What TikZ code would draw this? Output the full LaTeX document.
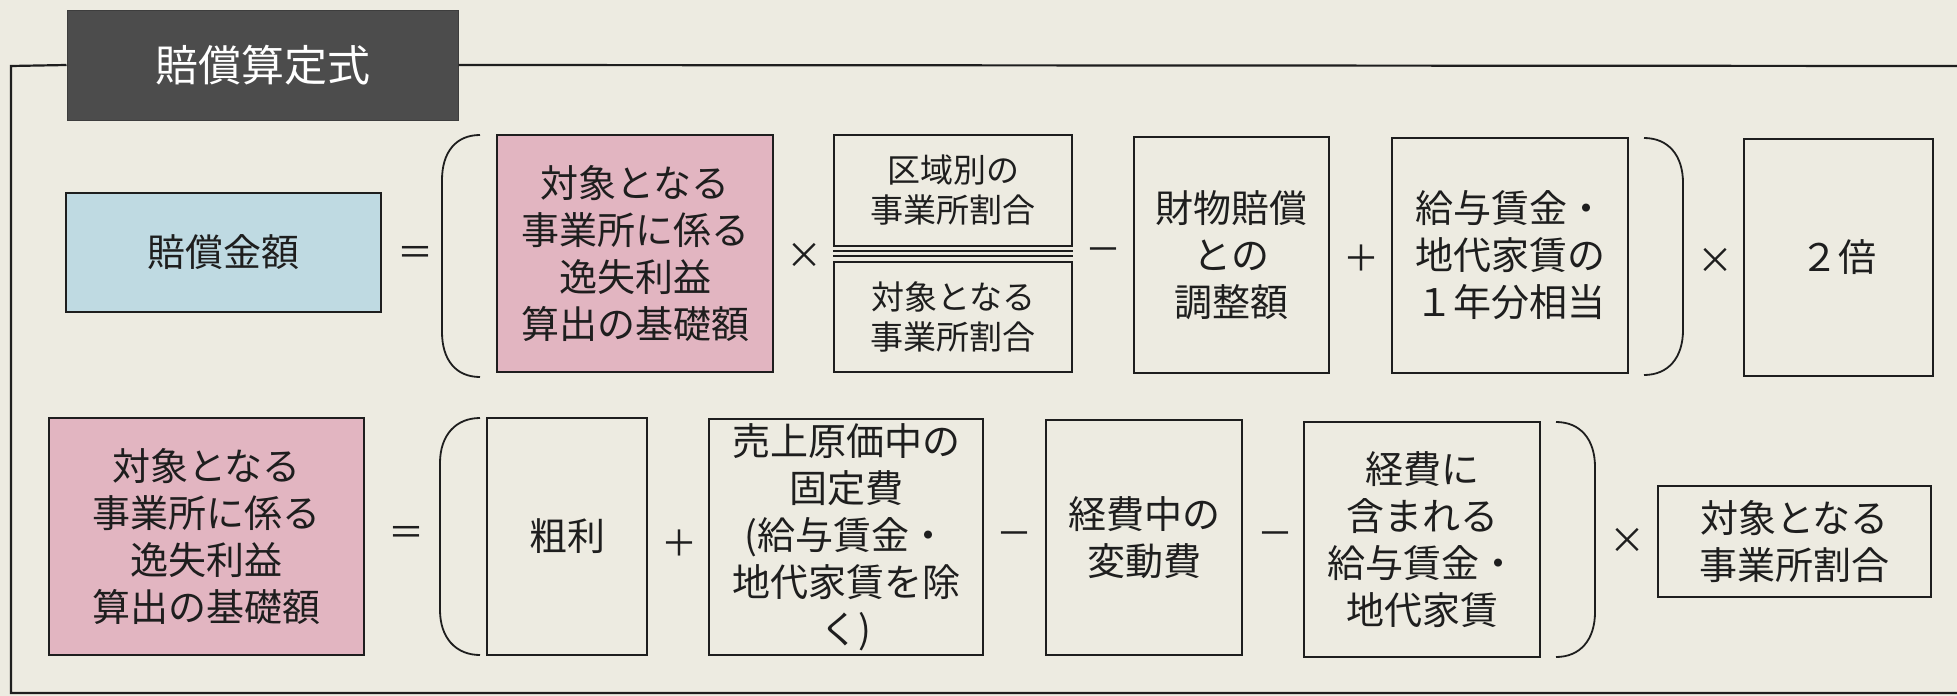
\documentclass[tikz,border=0pt]{standalone}
\usepackage{fontspec}
\setmainfont{Noto Sans CJK JP}
\definecolor{paper}{HTML}{EDEBE1}
\definecolor{pinkfill}{HTML}{E2B5C1}
\definecolor{bluefill}{HTML}{BFDAE2}
\definecolor{titlefill}{HTML}{4C4C4C}
\definecolor{ink}{HTML}{1E1E1E}
\begin{document}
\begin{tikzpicture}[x=1pt,y=-1pt,
  box/.style={draw=ink, line width=1.8pt, rectangle, inner sep=0pt, align=center,
    text=ink, font=\fontsize{38}{47}\selectfont},
  smallbox/.style={box, font=\fontsize{33}{40}\selectfont},
  pinkbox/.style={box, fill=pinkfill},
  bluebox/.style={box, fill=bluefill},
  op/.style={inner sep=0pt, text=ink, font=\fontsize{36}{40}\selectfont},
  paren/.style={draw=ink, line width=1.8pt},
  frame/.style={draw=ink, line width=2.2pt}]
\fill[paper] (0,0) rectangle (1957,696);
\useasboundingbox (0,0) rectangle (1957,696);

% title and frame
\node[rectangle, fill=titlefill, draw=titlefill!80!black, line width=1pt, inner sep=0pt,
  minimum width=391pt, minimum height=110pt, text=white,
  font=\fontsize{43}{50}\selectfont] (title) at (262.5,65) {賠償算定式};
\coordinate (ftr) at (1957,66);
\coordinate (ftl) at (11,66);
\coordinate (fbl) at (11,693);
\coordinate (fbr) at (1957,693);
\draw[frame] (title.west) -- (ftl) -- (fbl) -- (fbr);
\draw[frame] (title.east) -- (ftr);

% ---------- row 1 ----------
\node[bluebox, minimum width=315pt, minimum height=119pt] (b1) at (223.5,252.5) {賠償金額};
\node[op] (eq1) at (415,256) {＝};
\draw[paren] (480,135) .. controls (456,135) and (442,152) .. (442,180) -- (442,332)
  .. controls (442,360) and (456,377) .. (480,377);
\node[pinkbox, minimum width=276pt, minimum height=237pt] (p1) at (635,253.5)
  {対象となる\\事業所に係る\\逸失利益\\算出の基礎額};
\node[op] (x1) at (804,256) {×};
\node[smallbox, minimum width=238pt, minimum height=111pt] (fa) at (953,190.5)
  {区域別の\\事業所割合};
\node[smallbox, minimum width=238pt, minimum height=110pt] (fb) at (953,317)
  {対象となる\\事業所割合};
\draw[draw=ink, line width=1.8pt] ([yshift=-4pt]fa.south west) -- ([yshift=-4pt]fa.south east);
\draw[draw=ink, line width=1.8pt] ([yshift=-9pt]fa.south west) -- ([yshift=-9pt]fa.south east);
\node[op] (m1) at (1103,255) {－};
\node[box, minimum width=195pt, minimum height=236pt] (zai) at (1231.5,255)
  {財物賠償\\との\\調整額};
\node[op] (pl1) at (1361,258) {＋};
\node[box, minimum width=236pt, minimum height=235pt] (kyu) at (1510,255.5)
  {給与賃金・\\地代家賃の\\１年分相当};
\draw[paren] (1644,138) .. controls (1668,138) and (1683,155) .. (1683,183) -- (1683,330)
  .. controls (1683,358) and (1668,375) .. (1644,375);
\node[op] (x2) at (1715,261) {×};
\node[box, minimum width=189pt, minimum height=237pt] (two) at (1838.5,257.5) {２倍};

% ---------- row 2 ----------
\node[pinkbox, minimum width=315pt, minimum height=237pt] (p2) at (206.5,536.5)
  {対象となる\\事業所に係る\\逸失利益\\算出の基礎額};
\node[op] (eq2) at (406,536) {＝};
\draw[paren] (480,418) .. controls (456,418) and (440,435) .. (440,463) -- (440,610)
  .. controls (440,638) and (456,655) .. (480,655);
\node[box, minimum width=160pt, minimum height=237pt] (ara) at (567,536.5) {粗利};
\node[op] (pl2) at (679,543) {＋};
\node[box, minimum width=274pt, minimum height=236pt] (uri) at (846,537)
  {売上原価中の\\固定費\\(給与賃金・\\地代家賃を除\\く)};
\node[op] (m2) at (1014,539) {－};
\node[box, minimum width=196pt, minimum height=235pt] (kei1) at (1144,537.5)
  {経費中の\\変動費};
\node[op] (m3) at (1275,539) {－};
\node[box, minimum width=236pt, minimum height=235pt] (kei2) at (1422,539.5)
  {経費に\\含まれる\\給与賃金・\\地代家賃};
\draw[paren] (1556,422) .. controls (1580,422) and (1595,439) .. (1595,467) -- (1595,612)
  .. controls (1595,640) and (1580,657) .. (1556,657);
\node[op] (x3) at (1627,541) {×};
\node[box, minimum width=273pt, minimum height=111pt] (tai) at (1794.5,541.5)
  {対象となる\\事業所割合};
\end{tikzpicture}
\end{document}
